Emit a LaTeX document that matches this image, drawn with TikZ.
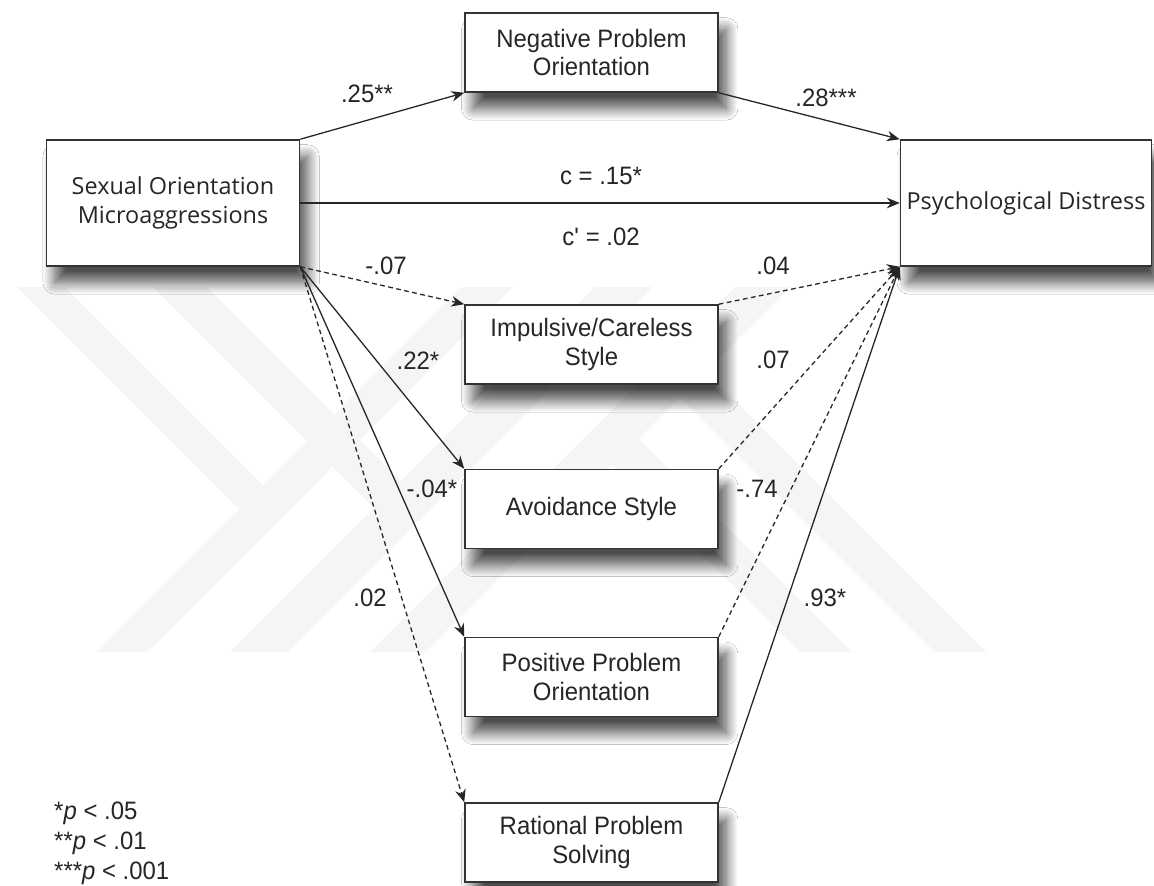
\documentclass[tikz,border=0pt]{standalone}
\usepackage{fontspec}
\setmainfont{Liberation Sans}[FakeStretch=0.95]
\newfontfamily\segoefont{Open Sans}
\usetikzlibrary{arrows.meta,shadows.blur}
\begin{document}
\begin{tikzpicture}[x={(0.03cm,0)}, y={(0,-0.03cm)},
  box/.style={draw=black!80, line width=1.3pt, fill=white, inner sep=0pt,
    minimum width=7.59cm, minimum height=2.37cm, align=center, text=black!85,
    font=\fontsize{21.5}{24}\selectfont,
    blur shadow={shadow xshift=7pt, shadow yshift=-14pt, shadow blur radius=10pt, shadow opacity=70, shadow blur steps=16}},
  bigbox/.style={box, minimum height=3.78cm, font=\segoefont\fontsize{20}{25}\selectfont},
  conn/.style={line width=1.1pt, draw=black!85, -{Stealth[length=11pt,width=9pt]}},
  dconn/.style={conn, dash pattern=on 4pt off 3pt},
  lab/.style={font=\fontsize{21.5}{24}\selectfont, inner sep=0pt, text=black!85},
  band/.style={fill=gray!8, draw=none}
]
\useasboundingbox (0,0) rectangle (1154,885);
\fill[white] (0,0) rectangle (1154,885);

% watermark bands
\fill[band] (17,287) -- (65,287) -- (263.5,485.5) -- (239.5,509.5) -- cycle;
\fill[band] (97,652) -- (147,652) -- (512,287) -- (462,287) -- cycle;
\fill[band] (153,287) -- (207,287) -- (401,481) -- (374,508) -- cycle;
\fill[band] (230,652) -- (287,652) -- (652,287) -- (595,287) -- cycle;
\fill[band] (370,652) -- (425,652) -- (790,287) -- (735,287) -- cycle;
\fill[band] (680,397) -- (705.5,371.5) -- (986,652) -- (935,652) -- cycle;
\fill[band] (612.5,464.5) -- (638.5,438.5) -- (852,652) -- (800,652) -- cycle;

% boxes
\node[bigbox] (som) at (173,203) {Sexual Orientation\\Microaggressions};
\node[bigbox, minimum width=7.53cm] (pd) at (1026,203) {Psychological Distress};
\node[box] (npo) at (591.5,52.5) {Negative Problem\\Orientation};
\node[box] (imp) at (591.5,344.5) {Impulsive/Careless\\Style};
\node[box] (avo) at (591.5,509) {Avoidance Style};
\node[box] (pos) at (591.5,677) {Positive Problem\\Orientation};
\node[box] (rat) at (591.5,842.5) {Rational Problem\\Solving};

% connectors
\draw[conn] (som.north east) -- (npo.south west);
\draw[conn] (npo.south east) -- (pd.north west);
\draw[conn] (som.east) -- (pd.west);
\draw[dconn] (som.south east) -- (imp.north west);
\draw[conn] (som.south east) -- (avo.north west);
\draw[conn] (som.south east) -- (pos.north west);
\draw[dconn] (som.south east) -- (rat.north west);
\draw[dconn] (imp.north east) -- (pd.south west);
\draw[dconn] (avo.north east) -- (pd.south west);
\draw[dconn] (pos.north east) -- (pd.south west);
\draw[conn] (rat.north east) -- (pd.south west);

% labels
\node[lab] (l1) at (367,94) {.25**};
\node[lab] (l2) at (826,98) {.28***};
\node[lab] (l3) at (601,176) {c = .15*};
\node[lab] (l4) at (601,237) {c\textquotesingle{} = .02};
\node[lab] (l5) at (386,266) {-.07};
\node[lab] (l6) at (773,266) {.04};
\node[lab] (l7) at (418,361) {.22*};
\node[lab] (l8) at (773,360) {.07};
\node[lab] (l9) at (432,489) {-.04*};
\node[lab] (l10) at (757,489) {-.74};
\node[lab] (l11) at (370,598) {.02};
\node[lab] (l12) at (825,598) {.93*};

% legend
\node[lab, anchor=west] (n1) at (54,813) {*\textit{p} < .05};
\node[lab, anchor=west] (n2) at (54,843) {**\textit{p} < .01};
\node[lab, anchor=west] (n3) at (54,873) {***\textit{p} < .001};
\end{tikzpicture}
\end{document}
